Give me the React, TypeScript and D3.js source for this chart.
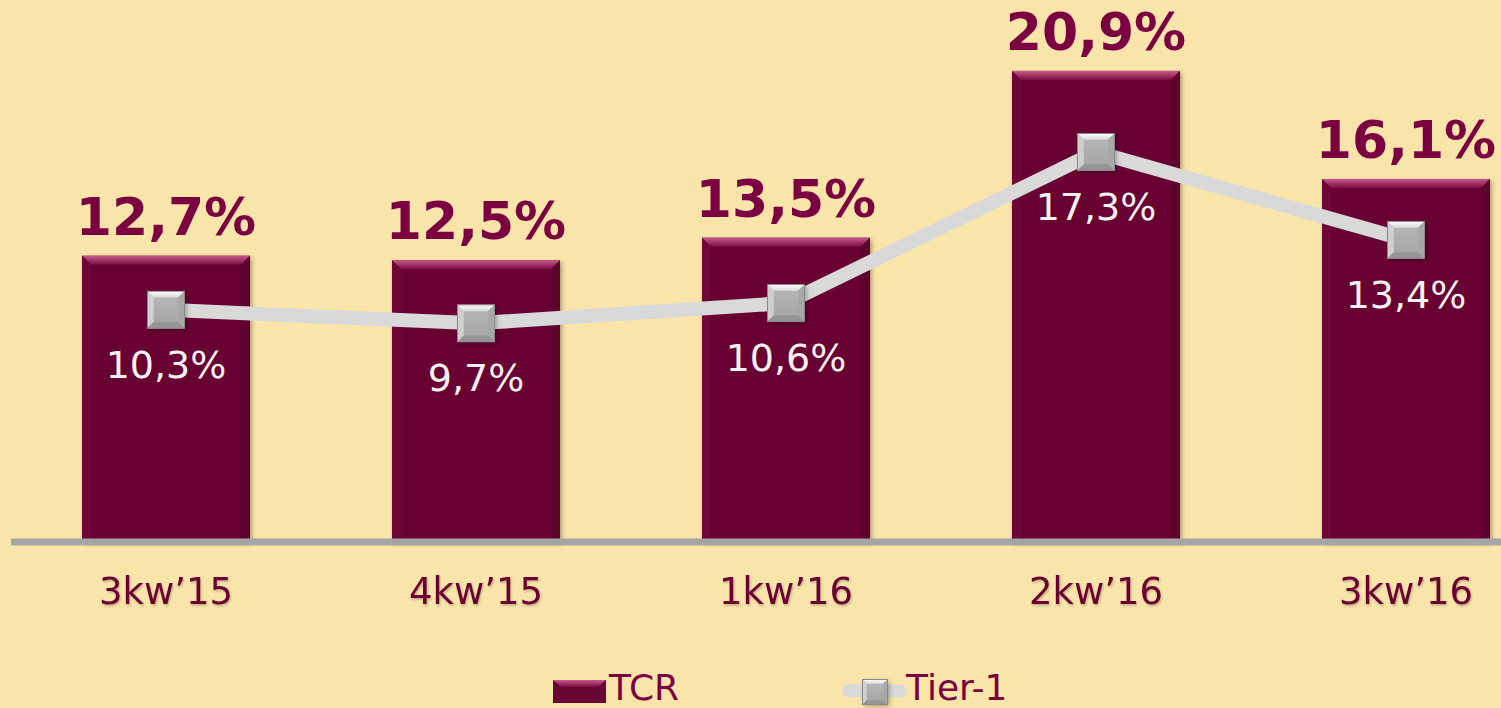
import * as d3 from 'd3';
import React, { useEffect, useRef } from "react";

const quarters = ["3kw\u201915", "4kw\u201915", "1kw\u201916", "2kw\u201916", "3kw\u201916"];
const tcrValues = [12.7, 12.5, 13.5, 20.9, 16.1];
const tier1Values = [10.3, 9.7, 10.6, 17.3, 13.4];

const fmt = (v: number) => v.toFixed(1).replace('.', ',') + '%';

const App: React.FC = () => {
    const ref = useRef<SVGSVGElement>(null);

    useEffect(() => {
        if (!ref.current) return;
        const width = 1501;
        const height = 708;
        const baseline = 542;
        const font = "'DejaVu Sans', Verdana, sans-serif";

        const svg = d3.select(ref.current)
            .attr('width', width)
            .attr('height', height);
        svg.selectAll('*').remove();

        const defs = svg.append('defs');
        const topGrad = defs.append('linearGradient').attr('id', 'barTop')
            .attr('x1', 0).attr('y1', 0).attr('x2', 0).attr('y2', 1);
        topGrad.append('stop').attr('offset', '0%').attr('stop-color', '#c45a88');
        topGrad.append('stop').attr('offset', '100%').attr('stop-color', '#7c0d42');
        const mkGrad = defs.append('linearGradient').attr('id', 'mkTop')
            .attr('x1', 0).attr('y1', 0).attr('x2', 0).attr('y2', 1);
        mkGrad.append('stop').attr('offset', '0%').attr('stop-color', '#ffffff');
        mkGrad.append('stop').attr('offset', '100%').attr('stop-color', '#d8d8d8');
        const mkFace = defs.append('linearGradient').attr('id', 'mkFace')
            .attr('x1', 0).attr('y1', 0).attr('x2', 0).attr('y2', 1);
        mkFace.append('stop').attr('offset', '0%').attr('stop-color', '#b8b8b8');
        mkFace.append('stop').attr('offset', '100%').attr('stop-color', '#a4a4a4');
        const shadow = defs.append('filter').attr('id', 'shadow')
            .attr('x', '-10%').attr('y', '-10%').attr('width', '130%').attr('height', '130%');
        shadow.append('feDropShadow').attr('dx', 2).attr('dy', 2).attr('stdDeviation', 2)
            .attr('flood-color', '#000').attr('flood-opacity', 0.3);
        const txtShadow = defs.append('filter').attr('id', 'txtShadow');
        txtShadow.append('feDropShadow').attr('dx', 1).attr('dy', 1.5).attr('stdDeviation', 0.8)
            .attr('flood-color', '#000').attr('flood-opacity', 0.25);

        svg.append('rect').attr('width', width).attr('height', height).attr('fill', '#f9e4aa');

        const x = d3.scaleBand<string>()
            .domain(quarters)
            .range([11, 1561])
            .paddingInner(0.458)
            .paddingOuter(0.229);
        const y = d3.scaleLinear().domain([0, 24]).range([baseline, 1]);
        const bw = x.bandwidth();
        const cx = (q: string) => (x(q) as number) + bw / 2;

        // bars
        const bars = svg.selectAll('.bar')
            .data(quarters.map((q, i) => ({ q, v: tcrValues[i] })))
            .enter()
            .append('g')
            .attr('class', 'bar');

        const bev = 9;
        bars.append('rect')
            .attr('x', d => x(d.q) as number)
            .attr('y', d => y(d.v))
            .attr('width', bw)
            .attr('height', d => baseline - y(d.v))
            .attr('fill', '#680533')
            .attr('filter', 'url(#shadow)');
        bars.append('path')
            .attr('d', d => {
                const x0 = x(d.q) as number, y0 = y(d.v);
                return `M${x0},${y0}L${x0 + bw},${y0}L${x0 + bw - bev},${y0 + bev}L${x0 + bev},${y0 + bev}Z`;
            })
            .attr('fill', 'url(#barTop)');
        bars.append('path')
            .attr('d', d => {
                const x0 = x(d.q) as number, y0 = y(d.v);
                return `M${x0},${y0}L${x0 + bev},${y0 + bev}L${x0 + bev},${baseline}L${x0},${baseline}Z`;
            })
            .attr('fill', '#6e0737');
        bars.append('path')
            .attr('d', d => {
                const x0 = x(d.q) as number, y0 = y(d.v);
                return `M${x0 + bw},${y0}L${x0 + bw - bev},${y0 + bev}L${x0 + bw - bev},${baseline}L${x0 + bw},${baseline}Z`;
            })
            .attr('fill', '#5e032e');

        bars.append('text')
            .attr('x', d => cx(d.q))
            .attr('y', d => y(d.v) - 21)
            .attr('text-anchor', 'middle')
            .attr('font-family', font)
            .attr('font-weight', 'bold')
            .attr('font-size', 52)
            .attr('fill', '#7b0042')
            .text(d => fmt(d.v));

        // axis line
        svg.append('line')
            .attr('x1', 11).attr('x2', width)
            .attr('y1', baseline).attr('y2', baseline)
            .attr('stroke', '#a5a5a5').attr('stroke-width', 7);

        // category labels
        svg.selectAll('.cat')
            .data(quarters)
            .enter()
            .append('text')
            .attr('class', 'cat')
            .attr('x', d => cx(d))
            .attr('y', 604)
            .attr('text-anchor', 'middle')
            .attr('font-family', font)
            .attr('font-size', 37)
            .attr('fill', '#6b0033')
            .attr('filter', 'url(#txtShadow)')
            .text(d => d);

        // line series
        const pts = quarters.map((q, i) => [cx(q), y(tier1Values[i])] as [number, number]);
        svg.append('path')
            .attr('d', d3.line()(pts))
            .attr('fill', 'none')
            .attr('stroke', '#d9d9d9')
            .attr('stroke-width', 14);

        const marker = (g: d3.Selection<SVGGElement, unknown, null, undefined>, s: number) => {
            const h = s / 2, i = s * 0.17;
            g.append('rect').attr('x', -h).attr('y', -h).attr('width', s).attr('height', s)
                .attr('fill', 'url(#mkFace)').attr('filter', 'url(#shadow)');
            g.append('path').attr('d', `M${-h},${-h}L${h},${-h}L${h - i},${-h + i}L${-h + i},${-h + i}Z`).attr('fill', 'url(#mkTop)');
            g.append('path').attr('d', `M${-h},${-h}L${-h + i},${-h + i}L${-h + i},${h - i}L${-h},${h}Z`).attr('fill', '#cfcfcf');
            g.append('path').attr('d', `M${h},${-h}L${h - i},${-h + i}L${h - i},${h - i}L${h},${h}Z`).attr('fill', '#a8a8a8');
            g.append('path').attr('d', `M${-h},${h}L${h},${h}L${h - i},${h - i}L${-h + i},${h - i}Z`).attr('fill', '#959595');
            g.append('rect').attr('x', -h).attr('y', -h).attr('width', s).attr('height', s)
                .attr('fill', 'none').attr('stroke', '#8a8a8a').attr('stroke-width', 1);
        };

        const pg = svg.selectAll('.pt')
            .data(quarters.map((q, i) => ({ q, v: tier1Values[i] })))
            .enter()
            .append('g')
            .attr('class', 'pt');
        pg.each(function (d) {
            const g = d3.select(this as SVGGElement)
                .append('g')
                .attr('transform', `translate(${cx(d.q)},${y(d.v)})`);
            marker(g as any, 37);
        });
        pg.append('text')
            .attr('x', d => cx(d.q))
            .attr('y', d => y(d.v) + 68)
            .attr('text-anchor', 'middle')
            .attr('font-family', font)
            .attr('font-size', 38)
            .attr('fill', '#f2f2f2')
            .text(d => fmt(d.v));

        // legend
        const lg = svg.append('g');
        lg.append('rect').attr('x', 553).attr('y', 680).attr('width', 53).attr('height', 23).attr('fill', '#680533');
        lg.append('path').attr('d', 'M553,680L606,680L598,687L561,687Z').attr('fill', 'url(#barTop)');
        lg.append('text').attr('x', 609).attr('y', 700)
            .attr('font-family', font).attr('font-size', 36).attr('fill', '#7b0042').text('TCR');
        lg.append('line').attr('x1', 849).attr('x2', 900).attr('y1', 691).attr('y2', 691)
            .attr('stroke', '#d9d9d9').attr('stroke-width', 13).attr('stroke-linecap', 'round');
        const lm = lg.append('g').attr('transform', 'translate(875,692)');
        marker(lm as any, 25);
        lg.append('text').attr('x', 906).attr('y', 700)
            .attr('font-family', font).attr('font-size', 36).attr('fill', '#7b0042').text('Tier-1');
    }, []);

    return (<svg ref={ref} style={{ position: 'absolute', left: 0, top: 0 }}></svg>);
};

export default App;
